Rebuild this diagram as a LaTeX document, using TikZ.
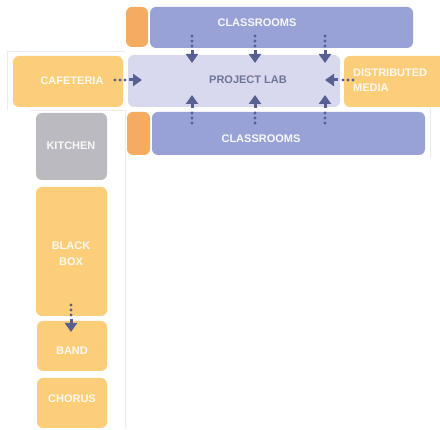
\documentclass[tikz,border=0pt]{standalone}
\usepackage{fontspec}
\setmainfont{Liberation Sans}
\usetikzlibrary{arrows.meta,calc}
\definecolor{clsblue}{RGB}{152,162,214}
\definecolor{labfill}{RGB}{216,216,238}
\definecolor{orng}{RGB}{246,172,96}
\definecolor{ylw}{RGB}{253,206,122}
\definecolor{kgray}{RGB}{186,186,192}
\definecolor{arrowc}{RGB}{88,96,146}
\definecolor{labtxt}{RGB}{112,116,152}
\definecolor{faint}{RGB}{236,236,240}
\begin{document}
\begin{tikzpicture}[x=1pt,y=-1pt,
  room/.style={rounded corners=6pt, inner sep=0pt, anchor=center},
  lbl/.style={font=\fontsize{11}{13}\selectfont\bfseries, inner sep=0pt, align=center},
  lbll/.style={font=\fontsize{11}{15}\selectfont\bfseries, inner sep=0pt, align=left, anchor=west},
  dots/.style={draw=arrowc, line width=3.2pt, dash pattern=on 0pt off 5pt, line cap=round},
  head/.style={draw=arrowc, line width=3pt, -{Triangle[length=9pt,width=12pt]}}]
\clip (0,0) rectangle (440,430);
\fill[white] (0,0) rectangle (440,430);
% faint guide lines
\draw[faint, line width=0.8pt] (125,110) -- (125,428);
\draw[faint, line width=0.8pt] (7,51) -- (125,51);
\draw[faint, line width=0.8pt] (7,51) -- (7,110);
\draw[faint, line width=0.8pt] (30,110) -- (125,110);
\draw[faint, line width=0.8pt] (430,108) -- (430,158);
% rooms
\node[room, fill=orng, minimum width=22pt, minimum height=40pt] (o1) at (137,27) {};
\node[room, fill=clsblue, minimum width=263pt, minimum height=41pt] (c1) at (281.5,27.5) {};
\node[room, fill=labfill, minimum width=212pt, minimum height=52pt] (lab) at (234,81) {};
\node[room, fill=ylw, minimum width=110pt, minimum height=51pt] (caf) at (68,81.5) {};
\node[room, fill=ylw, minimum width=106pt, minimum height=51pt] (dm) at (397,81.5) {};
\node[room, fill=orng, minimum width=23pt, minimum height=43pt] (o2) at (138.5,133.5) {};
\node[room, fill=clsblue, minimum width=273pt, minimum height=43pt] (c2) at (288.5,133.5) {};
\node[room, fill=kgray, minimum width=71pt, minimum height=67pt] (kit) at (71.5,146.5) {};
\node[room, fill=ylw, minimum width=71pt, minimum height=129pt] (bb) at (71.5,251.5) {};
\node[room, fill=ylw, minimum width=70pt, minimum height=50pt] (band) at (72,346) {};
\node[room, fill=ylw, minimum width=70pt, minimum height=50pt] (chor) at (72,403) {};
% labels
\node[lbl, text=white!92!clsblue] (c1t) at (257,23) {CLASSROOMS};
\node[lbl, text=labtxt] (labt) at (248,80) {PROJECT LAB};
\node[lbl, text=white!88!ylw] (caft) at (72,81) {CAFETERIA};
\node[lbll, text=white!88!ylw] (dmt) at (353,80) {DISTRIBUTED\\MEDIA};
\node[lbl, text=white!92!clsblue] (c2t) at (261,139) {CLASSROOMS};
\node[lbl, text=white!90!kgray] (kitt) at (71,146) {KITCHEN};
\node[lbl, text=white!88!ylw, font=\fontsize{11}{16}\selectfont\bfseries] (bbt) at (71,254) {BLACK\\BOX};
\node[lbl, text=white!88!ylw] (bandt) at (72,351) {BAND};
\node[lbl, text=white!88!ylw] (chort) at (72,399) {CHORUS};
% connector end points
\coordinate (a1s) at (192,36);  \coordinate (a1e) at (192,63);
\coordinate (a2s) at (255,36);  \coordinate (a2e) at (255,63);
\coordinate (a3s) at (325,36);  \coordinate (a3e) at (325,63);
\coordinate (b1s) at (192,123); \coordinate (b1e) at (192,95);
\coordinate (b2s) at (255,123); \coordinate (b2e) at (255,95);
\coordinate (b3s) at (325,123); \coordinate (b3e) at (325,95);
\coordinate (cfs) at (115,80);  \coordinate (cfe) at (142,80);
\coordinate (dms) at (353,80);  \coordinate (dme) at (325,80);
\coordinate (bbs) at (71,305);  \coordinate (bbe) at (71,332);
\foreach \s/\e in {a1s/a1e,a2s/a2e,a3s/a3e,b1s/b1e,b2s/b2e,b3s/b3e,cfs/cfe,dms/dme,bbs/bbe}{
  \draw[dots] (\s) -- ($(\s)!0.5!(\e)$);
  \draw[head] ($(\s)!0.52!(\e)$) -- (\e);
}
\end{tikzpicture}
\end{document}
